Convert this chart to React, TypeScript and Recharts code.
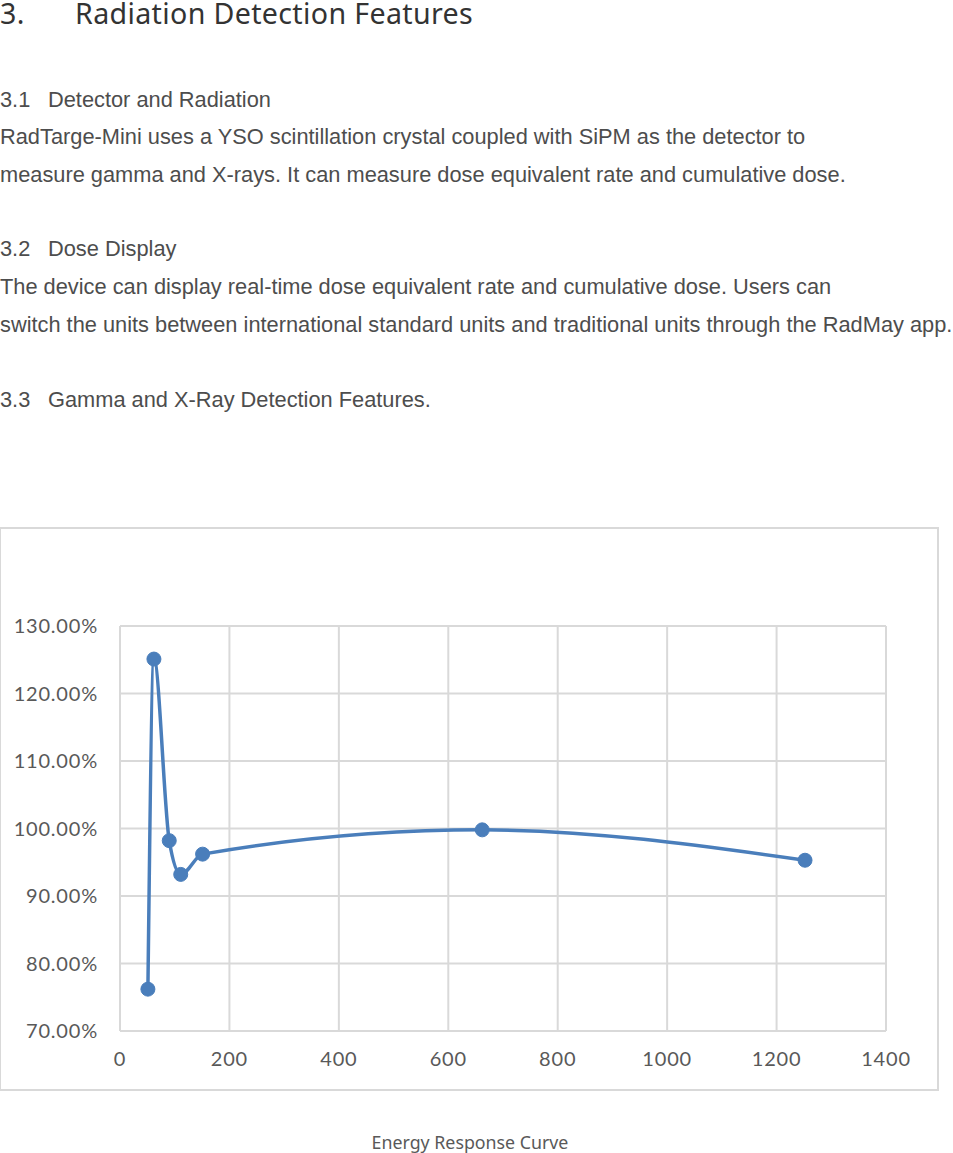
import React from 'react';
import { LineChart, Line, XAxis, YAxis, CartesianGrid } from 'recharts';

// energy (keV) vs. relative response (%)
const energies = [51, 62, 90, 111, 151, 662, 1252];
const responses = [76.2, 125.1, 98.2, 93.2, 96.2, 99.8, 95.3];
const xTicks = [0, 200, 400, 600, 800, 1000, 1200, 1400];
const yTicks = [70, 80, 90, 100, 110, 120, 130];

const data = energies.map((e, i) => ({ energy: e, response: responses[i] }));

const BLUE = '#4a7ebb';
const GRID = '#d9d9d9';
const TICK = { fill: '#595959', fontSize: 20, fontFamily: 'Lato, sans-serif', letterSpacing: 0.8 };

const bodyText: React.CSSProperties = {
  position: 'absolute',
  left: 0,
  margin: 0,
  fontFamily: '"Liberation Sans", Arial, sans-serif',
  fontSize: 21.8,
  color: '#4d4d4d',
  whiteSpace: 'nowrap',
  lineHeight: '26px',
};

const Line2: React.FC<{ top: number; children: React.ReactNode }> = ({ top, children }) => (
  <div style={{ ...bodyText, top: top - 13 }}>{children}</div>
);

const Heading: React.FC<{ top: number; num: string; text: string }> = ({ top, num, text }) => (
  <div style={{ ...bodyText, top: top - 13 }}>
    <span style={{ display: 'inline-block', width: 48 }}>{num}</span>
    {text}
  </div>
);

export default function App() {
  return (
    <div style={{ position: 'absolute', left: 0, top: 0, width: 953, height: 1153, background: '#fff', overflow: 'hidden' }}>
      <div
        style={{
          position: 'absolute',
          left: 0,
          top: -1,
          fontFamily: '"Noto Sans", sans-serif',
          fontSize: 28.6,
          letterSpacing: 0.35,
          color: '#333',
          whiteSpace: 'nowrap',
          lineHeight: '28px',
        }}
      >
        <span style={{ display: 'inline-block', width: 75 }}>3.</span>
        Radiation Detection Features
      </div>

      <Heading top={100} num="3.1" text="Detector and Radiation" />
      <Line2 top={137}>RadTarge-Mini uses a YSO scintillation crystal coupled with SiPM as the detector to</Line2>
      <Line2 top={175}>measure gamma and X-rays. It can measure dose equivalent rate and cumulative dose.</Line2>

      <Heading top={249} num="3.2" text="Dose Display" />
      <Line2 top={287}>The device can display real-time dose equivalent rate and cumulative dose. Users can</Line2>
      <Line2 top={325}>switch the units between international standard units and traditional units through the RadMay app.</Line2>

      <Heading top={400} num="3.3" text="Gamma and X-Ray Detection Features." />

      <div
        style={{
          position: 'absolute',
          left: -1,
          top: 527,
          width: 940,
          height: 564,
          border: `2px solid ${GRID}`,
          boxSizing: 'border-box',
        }}
      >
        <LineChart
          width={936}
          height={560}
          data={data}
          margin={{ top: 97, right: 51, bottom: 28, left: 0 }}
        >
          <CartesianGrid stroke={GRID} strokeWidth={2} horizontalValues={yTicks} verticalValues={xTicks} />
          <XAxis
            dataKey="energy"
            type="number"
            domain={[0, 1400]}
            ticks={xTicks}
            axisLine={false}
            tickLine={false}
            tickSize={0}
            tickMargin={21}
            tick={TICK}
            interval={0}
          />
          <YAxis
            type="number"
            domain={[70, 130]}
            ticks={yTicks}
            width={119}
            axisLine={false}
            tickLine={false}
            tickSize={0}
            tickMargin={22}
            tick={TICK}
            interval={0}
            tickFormatter={(v: number) => `${v.toFixed(2)}%`}
          />
          <Line
            dataKey="response"
            type="monotone"
            stroke={BLUE}
            strokeWidth={3.5}
            dot={{ r: 7, fill: BLUE, stroke: BLUE, strokeWidth: 1 }}
            activeDot={false}
            isAnimationActive={false}
          />
        </LineChart>
      </div>

      <div
        style={{
          position: 'absolute',
          left: 0,
          width: 940,
          top: 1129,
          textAlign: 'center',
          fontFamily: '"Noto Sans", sans-serif',
          fontSize: 17.8,
          color: '#595959',
          lineHeight: '26px',
        }}
      >
        Energy Response Curve
      </div>
    </div>
  );
}
